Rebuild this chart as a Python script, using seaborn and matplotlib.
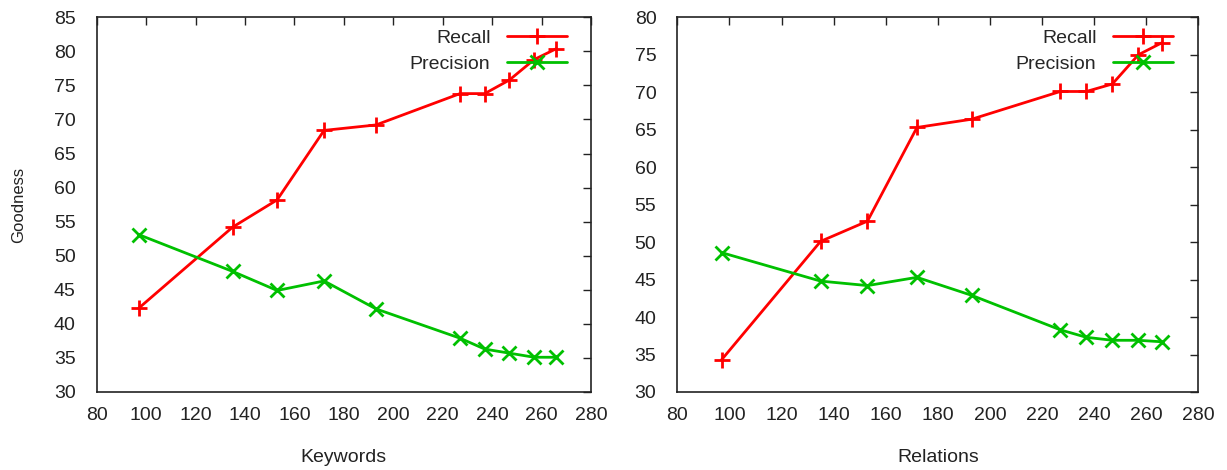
"""
Recall / Precision vs. number of keywords and relations (gnuplot-style two panels)
"""

import numpy as np
import pandas as pd
import matplotlib
matplotlib.use("Agg")
import matplotlib.pyplot as plt
import seaborn as sns

# ── Data ───────────────────────────────────────────────────
x_points = [97, 135, 153, 172, 193, 227, 237, 247, 257, 266]

kw_recall    = [42.3, 54.2, 58.2, 68.4, 69.2, 73.8, 73.8, 75.8, 78.8, 80.4]
kw_precision = [53.1, 47.7, 44.9, 46.3, 42.2, 37.9, 36.3, 35.7, 35.1, 35.1]

rel_recall    = [34.3, 50.1, 52.8, 65.3, 66.4, 70.1, 70.1, 71.1, 75.0, 76.6]
rel_precision = [48.6, 44.8, 44.2, 45.3, 42.9, 38.3, 37.3, 36.9, 36.9, 36.7]

x_ticks      = list(range(80, 281, 20))
kw_y_ticks   = list(range(30, 86, 5))
rel_y_ticks  = list(range(30, 81, 5))

# ── Styling ────────────────────────────────────────────────
sns.set_theme(style="white")
plt.rcParams["font.family"] = ["Liberation Sans", "DejaVu Sans"]
RED   = "#ff0000"
GREEN = "#00c000"
FRAME = "#222222"

fig = plt.figure(figsize=(12.27, 4.70), dpi=100)
ax1 = fig.add_axes([96.7 / 1227, 1 - 392 / 470, 494.3 / 1227, 374.7 / 470])
ax2 = fig.add_axes([677.3 / 1227, 1 - 392 / 470, 521.0 / 1227, 374.7 / 470])

panels = [
    (ax1, kw_recall, kw_precision, "Keywords", kw_y_ticks, (30, 85)),
    (ax2, rel_recall, rel_precision, "Relations", rel_y_ticks, (30, 80)),
]

for ax, recall, precision, xlabel, yticks, ylim in panels:
    df = pd.DataFrame({"x": x_points, "Recall": recall, "Precision": precision})
    sns.lineplot(data=df, x="x", y="Recall", ax=ax, color=RED, linewidth=2,
                 marker="+", markersize=11, markeredgewidth=2,
                 markeredgecolor=RED, label="Recall")
    sns.lineplot(data=df, x="x", y="Precision", ax=ax, color=GREEN, linewidth=2,
                 marker="x", markersize=10, markeredgewidth=2,
                 markeredgecolor=GREEN, label="Precision")

    ax.set_xlim(80, 280)
    ax.set_ylim(*ylim)
    ax.set_xticks(x_ticks)
    ax.set_yticks(yticks)
    ax.tick_params(axis="both", direction="in", length=6, width=1, color=FRAME,
                   labelsize=14, top=True, right=True, labelcolor="#222222")
    ax.tick_params(axis="x", pad=11)
    ax.tick_params(axis="y", pad=15)
    for sp in ax.spines.values():
        sp.set_color(FRAME)
        sp.set_linewidth(1.2)

    ax.set_xlabel(xlabel, fontsize=14, color="#222222")
    ax.xaxis.set_label_coords(0.5, -0.153)
    ax.set_ylabel("")

    ax.legend(loc="upper right", bbox_to_anchor=(0.952, 0.969), frameon=False,
              markerfirst=False, fontsize=14, handlelength=3.1,
              handletextpad=0.85, labelspacing=0.45, borderpad=0,
              borderaxespad=0)

ax1.set_ylabel("Goodness", fontsize=12, color="#222222")
ax1.yaxis.set_label_coords(-0.142, 0.5)

plt.savefig("out.png", dpi=100, facecolor="white")
plt.close()
